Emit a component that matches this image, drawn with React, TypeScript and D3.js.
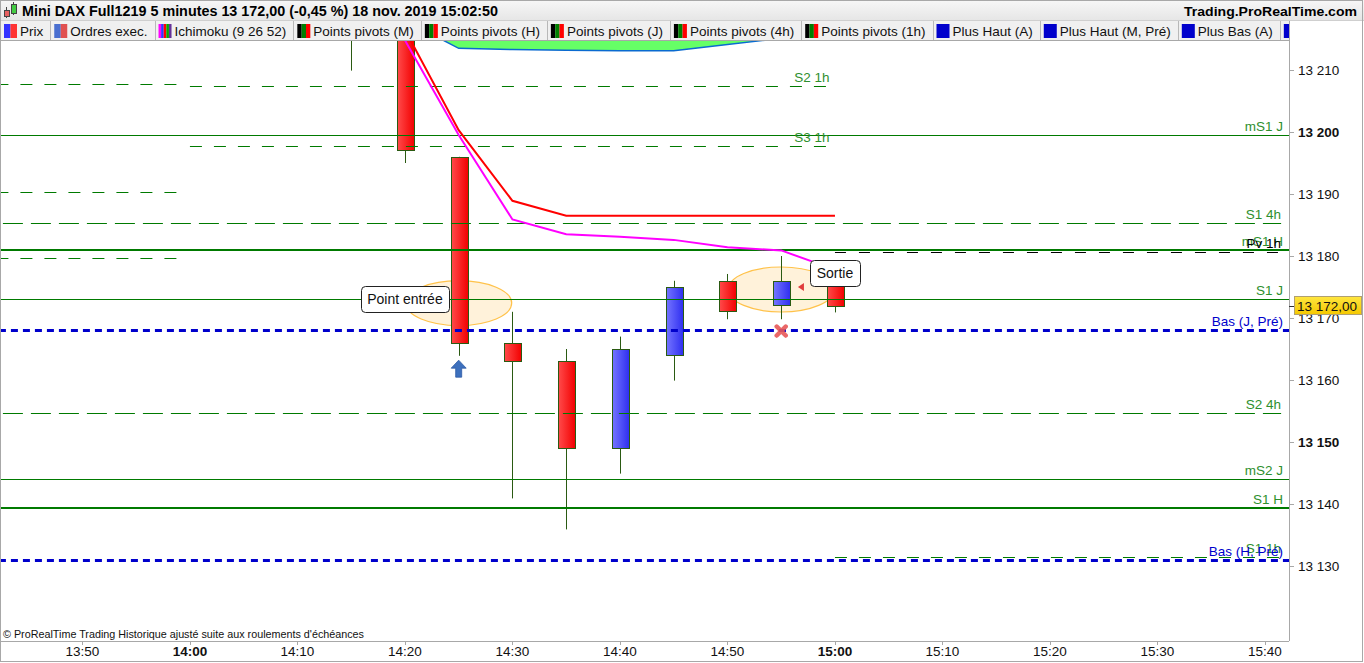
import React from 'react';
import * as d3 from 'd3';

// ---------- data ----------
const candleTimes = ['14:15', '14:20', '14:25', '14:30', '14:35', '14:40', '14:45', '14:50', '14:55', '15:00'];
const opens = [13226, 13222, 13195.9, 13165.9, 13163, 13149, 13164, 13175.9, 13172, 13176];
const highs = [13230, 13226, 13196, 13171, 13165, 13167, 13176, 13177.1, 13180, 13177];
const lows = [13209.9, 13195, 13163.9, 13140.9, 13135.9, 13144.9, 13159.9, 13169.8, 13169.8, 13170.9];
const closes = [13222, 13197.1, 13165.9, 13163, 13149, 13165, 13175, 13171, 13175.9, 13172];

const kijun = [13232, 13216.5, 13200.3, 13188.9, 13186.5, 13186.5, 13186.5, 13186.5, 13186.5, 13186.5];
const tenkan = [13230, 13214.8, 13199.5, 13185.9, 13183.5, 13183.1, 13182.6, 13181.4, 13180.9, 13177.8];
const cloudLow = [13224, 13218, 13213.5, 13213.3, 13213.2, 13213.1, 13213.1, 13214.1, 13215.1, 13217];
const cloudHigh = [13240, 13240, 13240, 13240, 13240, 13240, 13240, 13240, 13240, 13240];

const levelNames = ['', 'S2 1h', 'mS1 J', 'S3 1h', '', 'S1 4h', 'mS1 H', 'Pv 1h', '', 'S1 J', 'Bas (J, Pré)', 'S2 4h', 'mS2 J', 'S1 H', 'S1 1h', 'Bas (H, Pré)'];
const levelValues = [13207.7, 13207.4, 13199.5, 13197.7, 13190.3, 13185.3, 13181.0, 13180.6, 13179.6, 13173.1, 13168.0, 13154.7, 13144.0, 13139.4, 13131.5, 13131.0];
const levelKinds = ['h1', 'h1', 'day', 'h1', 'h1', 'h4', 'week', 'pv', 'h1', 'day', 'low', 'h4', 'day', 'week', 'h1', 'low'];
const levelFrom = ['13:42', '14:00', '13:40', '14:00', '13:42', '13:40', '13:40', '15:00', '13:42', '13:40', '13:40', '13:40', '13:40', '13:40', '15:00', '13:40'];
const levelTo = ['13:59', '14:59:30', '15:45', '14:59:30', '13:59', '15:41:30', '15:45', '15:41:30', '13:59', '15:45', '15:45', '15:41:30', '15:45', '15:45', '15:41:30', '15:45'];

// last tab is cut by the price axis: only its icon shows
const tabNames = ['Prix', 'Ordres exec.', 'Ichimoku (9 26 52)', 'Points pivots (M)', 'Points pivots (H)', 'Points pivots (J)', 'Points pivots (4h)', 'Points pivots (1h)', 'Plus Haut (A)', 'Plus Haut (M, Pré)', 'Plus Bas (A)', ''];
const tabIcons = [['#3333ff', '#ff3333'], ['#4a6fd0', '#e05050'], ['#ff00ff', '#3333ff', '#ff0000', '#00aa00', '#663399'],
  ['#000', '#007f00', '#ff0000'], ['#000', '#007f00', '#ff0000'], ['#000', '#007f00', '#ff0000'], ['#000', '#007f00', '#ff0000'],
  ['#000', '#007f00', '#ff0000'], ['#0000cc'], ['#0000cc'], ['#0000cc'], ['#0000cc']];

const noteTexts = ['Point entrée', 'Sortie'];
const noteTimes = ['14:20', '15:00'];
const noteValues = [13173.1, 13177.2];
const zoneTimes = ['14:25', '14:55'];
const zoneValues = [13172.4, 13174.6];
const buyTime = '14:25';
const buyValue = 13163.2;
const exitMarkTime = '14:55';
const exitMarkValue = 13167.9;
const exitArrowTime = '14:56:50';
const exitArrowValue = 13175;
const lastPrice = 13172;

const title = 'Mini DAX Full1219 5 minutes 13 172,00 (-0,45 %) 18 nov. 2019 15:02:50';

// ---------- layout ----------
const W = 1364;
const H = 663;
const plotRight = 1289;
const plotTop = 41;
const plotBottom = 641;
const FONT = '"Liberation Sans", Arial, sans-serif';
const FS = 13.5;
const GREEN = '#007a00';
const LABEL_GREEN = '#2e8f2e';
const BLUE = '#0000cc';
const WICK = '#2a5a12';

const at = (hm: string) => {
  const [h, m, s = 0] = hm.split(':').map(Number);
  return new Date(2019, 10, 18, h, m, s);
};

const x = d3.scaleTime().domain([at('13:42:20'), at('15:42:14')]).range([0, plotRight]);
const y = d3.scaleLinear().domain([13130, 13210]).range([566, 70]);

const fr = d3.formatLocale({ decimal: ',', thousands: ' ', grouping: [3], currency: ['', ''] });
const fmtInt = fr.format(',.0f');
const fmtPrice = fr.format(',.2f');

let ctx: CanvasRenderingContext2D | null = null;
const measure = (s: string, size: number, weight = 'normal') => {
  if (!ctx) ctx = document.createElement('canvas').getContext('2d');
  if (!ctx) return s.length * size * 0.55;
  ctx.font = `${weight} ${size}px ${FONT}`;
  return ctx.measureText(s).width;
};

const levelStyle: Record<string, { stroke: string; width: number; dash?: string; label: string }> = {
  h1: { stroke: GREEN, width: 1, dash: '12 12', label: LABEL_GREEN },
  h4: { stroke: GREEN, width: 1, dash: '20 8', label: LABEL_GREEN },
  day: { stroke: GREEN, width: 1, label: LABEL_GREEN },
  week: { stroke: GREEN, width: 2, label: LABEL_GREEN },
  pv: { stroke: '#000', width: 1, dash: '11 13', label: '#000' },
  low: { stroke: BLUE, width: 3, dash: '7 5', label: BLUE },
};

const crisp = (v: number) => Math.round(v) + 0.5;

const App: React.FC = () => {
  const candles = candleTimes.map((t, i) => ({ t: at(t), o: opens[i], h: highs[i], l: lows[i], c: closes[i] }));
  const bw = 17;

  const lineGen = (vals: number[]) =>
    d3.line<number>().x((_, i) => x(at(candleTimes[i]))).y(v => y(v))(vals) || '';

  const cloud = d3.area<number>()
    .x((_, i) => x(at(candleTimes[i])))
    .y0(v => y(v))
    .y1((_, i) => y(cloudHigh[i]))(cloudLow) || '';

  // tabs laid out from measured text
  let tx = 0;
  const tabs = tabNames.map((name, i) => {
    const w = 20 + measure(name, FS) + 7;
    const tab = { name, x0: tx, w, icon: tabIcons[i] };
    tx += w;
    return tab;
  });

  const yTicks = d3.range(13130, 13211, 10);
  const xTicks = x.ticks(d3.timeMinute.every(10)!);

  return (
    <svg width={W} height={H} style={{ position: 'absolute', left: 0, top: 0, background: '#fff' }}
      fontFamily={FONT}>
      <defs>
        <clipPath id="plot"><rect x={0} y={plotTop} width={plotRight} height={plotBottom - plotTop} /></clipPath>
        <clipPath id="tabrow"><rect x={0} y={20} width={plotRight} height={21} /></clipPath>
        <linearGradient id="down" x1="0" x2="1" y1="0" y2="0">
          <stop offset="0" stopColor="#ff4a4a" />
          <stop offset="1" stopColor="#f20000" />
        </linearGradient>
        <linearGradient id="up" x1="0" x2="1" y1="0" y2="0">
          <stop offset="0" stopColor="#7474ff" />
          <stop offset="1" stopColor="#2e2ef0" />
        </linearGradient>
        <linearGradient id="bar" x1="0" x2="0" y1="0" y2="1">
          <stop offset="0" stopColor="#f7f7f7" />
          <stop offset="1" stopColor="#e6e6e6" />
        </linearGradient>
        <linearGradient id="gold" x1="0" x2="0" y1="0" y2="1">
          <stop offset="0" stopColor="#ffe640" />
          <stop offset="1" stopColor="#f5c800" />
        </linearGradient>
      </defs>

      {/* title bar */}
      <rect x={0} y={0} width={W} height={20} fill="url(#bar)" />
      <line x1={0} x2={W} y1={20.5} y2={20.5} stroke="#cfcfcf" />
      <g>
        <line x1={6.5} x2={6.5} y1={7} y2={18} stroke="#444" />
        <rect x={4.5} y={10.5} width={5} height={6} fill="#e86060" stroke="#444" />
        <line x1={13.5} x2={13.5} y1={2} y2={15} stroke="#444" />
        <rect x={11.5} y={4.5} width={5} height={9} fill="#44cc44" stroke="#444" />
      </g>
      <text x={22} y={16} fontSize={14} fontWeight="bold" fill="#000" textLength={476} lengthAdjust="spacingAndGlyphs">{title}</text>
      <text x={1184} y={16} fontSize={13.5} fontWeight="bold" fill="#000" textLength={173} lengthAdjust="spacingAndGlyphs">Trading.ProRealTime.com</text>

      {/* indicator tabs */}
      <g clipPath="url(#tabrow)">
        <rect x={0} y={21} width={plotRight} height={20} fill="#f0f0f0" />
        {tabs.map((tab, k) => (
          <g key={k}>
            {tab.icon.map((c, j) => (
              <rect key={j} x={tab.x0 + 4 + (j * 13) / tab.icon.length} y={24} width={13 / tab.icon.length} height={14} fill={c} />
            ))}
            {tab.name && <text x={tab.x0 + 20} y={35.5} fontSize={FS} fill="#111">{tab.name}</text>}
            <line x1={crisp(tab.x0 + tab.w)} x2={crisp(tab.x0 + tab.w)} y1={21} y2={43} stroke="#b8b8b8" />
          </g>
        ))}
      </g>
      <line x1={0} x2={plotRight} y1={40.5} y2={40.5} stroke="#a8a8a8" />

      {/* plot */}
      <g clipPath="url(#plot)">
        <path d={cloud} fill="#66ff66" />
        <path d={lineGen(cloudLow)} fill="none" stroke="#0a6ad0" strokeWidth={1.5} />

        {zoneTimes.map((t, i) => (
          <ellipse key={t} cx={x(at(t))} cy={y(zoneValues[i])} rx={53} ry={22.5}
            fill="#fff2da" stroke="#ffc24a" strokeWidth={1.2} />
        ))}

        {candles.map((d, i) => {
          const cx = Math.round(x(d.t));
          const top = y(Math.max(d.o, d.c));
          const bot = y(Math.min(d.o, d.c));
          return (
            <g key={i}>
              <line x1={cx + 0.5} x2={cx + 0.5} y1={y(d.h)} y2={y(d.l)} stroke={WICK} />
              <rect x={cx - 8 + 0.5} y={Math.round(top) + 0.5} width={bw} height={Math.max(1, Math.round(bot - top))}
                fill={d.c >= d.o ? 'url(#up)' : 'url(#down)'} stroke={WICK} />
            </g>
          );
        })}

        {levelValues.map((v, i) => {
          const st = levelStyle[levelKinds[i]];
          const yy = levelKinds[i] === 'week' ? Math.round(y(v)) : crisp(y(v));
          return (
            <line key={i} x1={x(at(levelFrom[i]))} x2={x(at(levelTo[i]))} y1={yy} y2={yy}
              stroke={st.stroke} strokeWidth={st.width} strokeDasharray={st.dash} />
          );
        })}

        <path d={lineGen(kijun)} fill="none" stroke="#ff0000" strokeWidth={2} />
        <path d={lineGen(tenkan)} fill="none" stroke="#ff00ff" strokeWidth={2} />

        {levelValues.map((v, i) => {
          if (!levelNames[i]) return null;
          const st = levelStyle[levelKinds[i]];
          const lx = Math.min(x(at(levelTo[i])), plotRight - 6);
          return (
            <text key={'l' + i} x={lx} y={y(v) - 4} fontSize={FS} fill={st.label} textAnchor="end">{levelNames[i]}</text>
          );
        })}

        {/* trade markers */}
        {(() => {
          const bx = x(at(buyTime));
          const by = y(buyValue);
          return (
            <path d={`M${bx},${by} L${bx + 7.5},${by + 8} L${bx + 3},${by + 8} L${bx + 3},${by + 17} L${bx - 3},${by + 17} L${bx - 3},${by + 8} L${bx - 7.5},${by + 8} Z`}
              fill="#3d70bd" stroke="#2c5aa5" strokeWidth={0.8} />
          );
        })()}
        {(() => {
          const ex = x(at(exitMarkTime));
          const ey = y(exitMarkValue);
          return (
            <g stroke="#e85858" strokeWidth={4.5} strokeLinecap="round" opacity={0.9}>
              <line x1={ex - 4.5} x2={ex + 4.5} y1={ey - 4.5} y2={ey + 4.5} />
              <line x1={ex - 4.5} x2={ex + 4.5} y1={ey + 4.5} y2={ey - 4.5} />
            </g>
          );
        })()}
        {(() => {
          const ax = x(at(exitArrowTime));
          const ay = y(exitArrowValue);
          return <path d={`M${ax + 3},${ay - 4} L${ax - 3},${ay} L${ax + 3},${ay + 4} Z`} fill="#e03c3c" />;
        })()}

        {noteTexts.map((t, i) => {
          const cx = x(at(noteTimes[i]));
          const cy = y(noteValues[i]);
          const w = measure(t, 14) + 13;
          return (
            <g key={t}>
              <rect x={Math.round(cx - w / 2) + 0.5} y={Math.round(cy - 13) + 0.5} width={Math.round(w)} height={26} rx={4}
                fill="#fff" stroke="#222" />
              <text x={cx} y={cy + 5} fontSize={14} textAnchor="middle" fill="#111">{t}</text>
            </g>
          );
        })}
      </g>

      <text x={3} y={638} fontSize={11} fill="#111" textLength={361} lengthAdjust="spacingAndGlyphs">
        © ProRealTime Trading Historique ajusté suite aux roulements d'échéances
      </text>

      {/* right axis */}
      <line x1={plotRight + 0.5} x2={plotRight + 0.5} y1={21} y2={plotBottom} stroke="#a8a8a8" />
      {yTicks.map(v => (
        <g key={v}>
          <line x1={plotRight} x2={plotRight + 5} y1={crisp(y(v))} y2={crisp(y(v))} stroke="#a8a8a8" />
          <text x={1298} y={y(v) + 5} fontSize={FS} fill="#111" fontWeight={v % 50 === 0 ? 'bold' : 'normal'}>{fmtInt(v)}</text>
        </g>
      ))}
      <line x1={plotRight} x2={plotRight + 5} y1={crisp(y(lastPrice))} y2={crisp(y(lastPrice))} stroke="#333" />
      <rect x={1294.5} y={Math.round(y(lastPrice) - 9.5) + 0.5} width={67} height={18} fill="url(#gold)" stroke="#b0a070" />
      <text x={1297} y={y(lastPrice) + 5} fontSize={FS} fill="#111">{fmtPrice(lastPrice)}</text>

      {/* bottom axis */}
      <line x1={0} x2={plotRight} y1={plotBottom + 0.5} y2={plotBottom + 0.5} stroke="#a8a8a8" />
      {xTicks.map(t => (
        <g key={+t}>
          <line x1={crisp(x(t))} x2={crisp(x(t))} y1={plotBottom} y2={plotBottom + 4} stroke="#a8a8a8" />
          <text x={x(t)} y={656} fontSize={FS} fill="#111" textAnchor="middle"
            fontWeight={t.getMinutes() === 0 ? 'bold' : 'normal'}>{d3.timeFormat('%H:%M')(t)}</text>
        </g>
      ))}

      <rect x={0.5} y={0.5} width={1362} height={661} fill="none" stroke="#a8a8a8" />
    </svg>
  );
};

export default App;
